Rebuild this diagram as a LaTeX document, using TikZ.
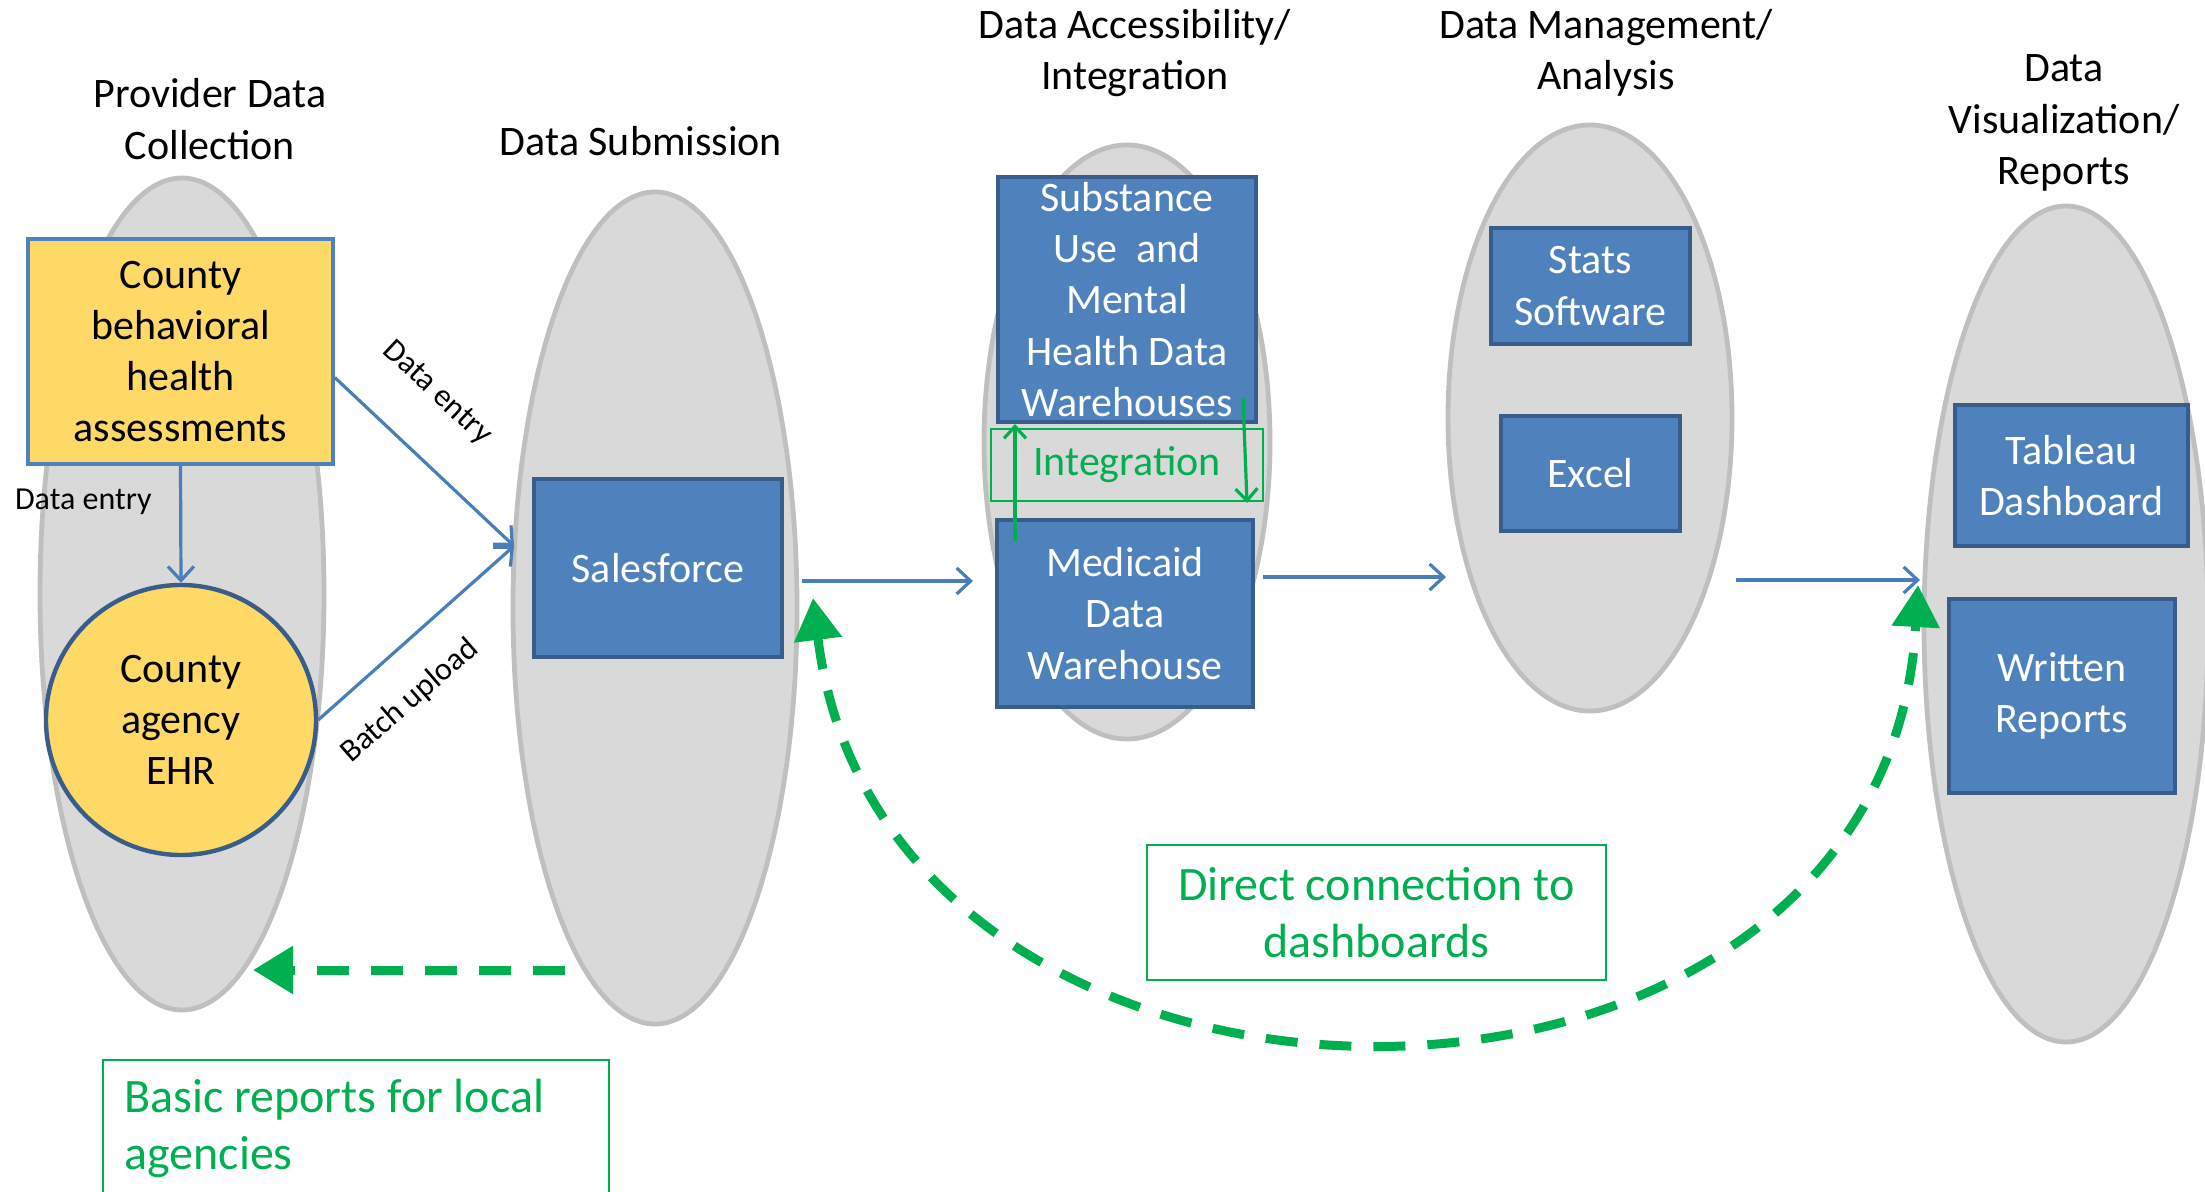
\documentclass[tikz,border=0pt]{standalone}
\usepackage{fontspec}
\setmainfont{Carlito}
\usetikzlibrary{arrows.meta,shapes.geometric,calc}
\definecolor{ellfill}{HTML}{D9D9D9}
\definecolor{elldraw}{HTML}{BFBFBF}
\definecolor{bfill}{HTML}{4F81BD}
\definecolor{bdraw}{HTML}{385D8A}
\definecolor{yfill}{HTML}{FFD966}
\definecolor{gr}{HTML}{00B050}
\definecolor{ablue}{HTML}{4A7EBB}
\begin{document}
\begin{tikzpicture}[x=0.5pt,y=-0.5pt,
  stage/.style={ellipse, fill=ellfill, draw=elldraw, line width=2.4pt, inner sep=0pt},
  bluebox/.style={rectangle, fill=bfill, draw=bdraw, line width=2pt, text=white, align=center, inner sep=0pt, font=\fontsize{21}{25.6}\selectfont},
  ttl/.style={align=center, font=\fontsize{21}{25.6}\selectfont},
  small/.style={font=\fontsize{16}{19}\selectfont},
  gbox/.style={rectangle, draw=gr, line width=1pt, text=gr, inner sep=0pt},
  barrow/.style={draw=ablue, line width=1.6pt, -{Straight Barb[length=7pt,width=13pt]}},
  garrow/.style={draw=gr, line width=1.6pt, -{Straight Barb[length=6pt,width=11pt]}},
  gdash/.style={draw=gr, line width=4.5pt, dash pattern=on 16pt off 11pt}
]
\useasboundingbox (0,0) rectangle (2205,1192);

% stages
\node[stage, minimum width=142pt, minimum height=416pt] (ell1) at (182,594) {};
\node[stage, minimum width=142pt, minimum height=416pt] (ell2) at (655,608) {};
\node[stage, minimum width=143pt, minimum height=297pt] (ell3) at (1127,442) {};
\node[stage, minimum width=142pt, minimum height=293pt] (ell4) at (1590,418) {};
\node[stage, minimum width=142pt, minimum height=418pt] (ell5) at (2066,624) {};

% titles
\node[ttl] (t1) at (210,119) {Provider Data\\Collection};
\node[ttl] (t2) at (641,141) {Data Submission};
\node[ttl] (t3) at (1135,53) {Data Accessibility/\\Integration};
\node[ttl] (t4) at (1606,53) {Data Management/\\Analysis};
\node[ttl] (t5) at (2064,123) {Data\\Visualization/\\Reports};

% provider data
\node[rectangle, fill=yfill, draw=bfill, line width=1.8pt, align=center, inner sep=0pt,
  font=\fontsize{21}{25.6}\selectfont, minimum width=152.5pt, minimum height=112.5pt]
  (ybox) at (180.5,351.5) {County\\behavioral\\health\\assessments};
\node[circle, fill=yfill, draw=bdraw, line width=2.2pt, align=center, inner sep=0pt,
  font=\fontsize{21}{25.6}\selectfont, minimum size=135pt]
  (ehr) at (181,720) {County\\agency\\EHR};

% blue boxes
\node[bluebox, minimum width=124pt, minimum height=89pt] (sf) at (658,568) {Salesforce};
\node[bluebox, minimum width=129pt, minimum height=122.5pt] (sub) at (1127,299.5) {Substance\\Use\ \ and\\Mental\\Health Data\\Warehouses};
\node[gbox, minimum width=136pt, minimum height=36pt, font=\fontsize{21}{25.6}\selectfont] (integ) at (1127,465) {Integration};
\node[bluebox, minimum width=128pt, minimum height=93.5pt] (med) at (1125,613.5) {Medicaid\\Data\\Warehouse};
\node[bluebox, minimum width=99.5pt, minimum height=58pt] (stats) at (1590.5,286) {Stats\\Software};
\node[bluebox, minimum width=89.5pt, minimum height=57.5pt] (excel) at (1590.5,473.5) {Excel};
\node[bluebox, minimum width=116.5pt, minimum height=70.5pt] (tab) at (2071.5,475.5) {Tableau\\Dashboard};
\node[bluebox, minimum width=113pt, minimum height=97pt] (wr) at (2062,696) {Written\\Reports};

% green note boxes
\node[gbox, minimum width=229.5pt, minimum height=67.5pt, align=center,
  font=\fontsize{24}{28.8}\selectfont] (direct) at (1376.5,912.5) {Direct connection to\\dashboards};
\node[gbox, minimum width=253pt, minimum height=68.5pt] (basic) at (356,1128.5) {};
\node[text=gr, align=left, inner sep=0pt, anchor=west, font=\fontsize{24}{28.8}\selectfont]
  (basictxt) at (124,1128.5) {Basic reports for local\\agencies};

% blue connectors
\coordinate (sfin) at (514,546);
\draw[barrow] (ybox.south) -- (ehr.north);
\draw[barrow] ([yshift=-13pt]ybox.east) -- (sfin);
\draw[barrow] (ehr.east) -- (sfin);
\node[small] (lbl1) at (8,502) [anchor=west] {Data entry};
\node[small, rotate=-43] (lbl2) at (437,393) {Data entry};
\node[small, rotate=41] (lbl3) at (410,701) {Batch upload};

\coordinate (s2out) at (802,581); \coordinate (s3in) at (973,581);
\coordinate (s3out) at (1263,577); \coordinate (s4in) at (1446,577);
\coordinate (s4out) at (1736,580); \coordinate (s5in) at (1920,580);
\draw[barrow] (s2out) -- (s3in);
\draw[barrow] (s3out) -- (s4in);
\draw[barrow] (s4out) -- (s5in);

% integration arrows
\coordinate (intup) at (1015,541);
\draw[garrow] (intup) -- (intup |- sub.south);
\coordinate (intdnS) at (1243,398); \coordinate (intdnE) at (1247,503);
\draw[garrow] (intdnS) -- (intdnE);

% dashed feedback arrows
\coordinate (fbS) at (565,970); \coordinate (fbE) at (253,970);
\draw[gdash, -{Triangle[length=20pt,width=23pt]}] (fbS) -- (fbE);
\coordinate (dcS) at (813,598); \coordinate (dcE) at (1918,585);
\draw[gdash, {Triangle[length=21pt,width=23pt]}-{Triangle[length=21pt,width=23pt]}]
  (dcS) .. controls (885,1185) and (1885,1185) .. (dcE);
\end{tikzpicture}
\end{document}
